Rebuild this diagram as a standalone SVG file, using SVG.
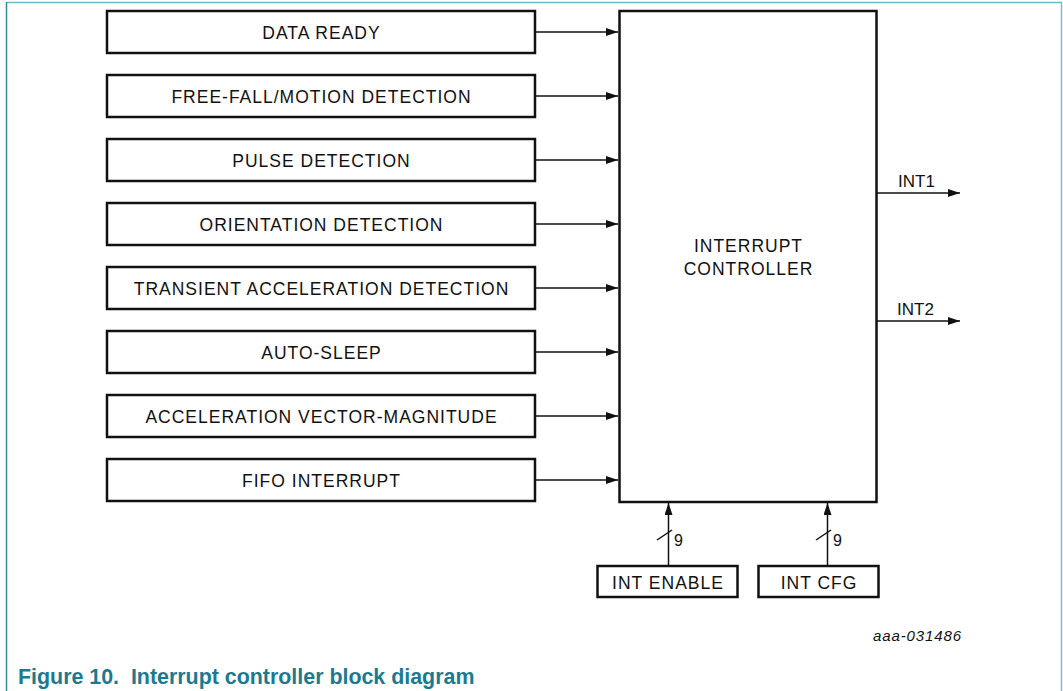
<svg xmlns="http://www.w3.org/2000/svg" width="1063" height="691" viewBox="0 0 1063 691">
<style>
.box{fill:#fff;stroke:#111;stroke-width:2.5}
.t{font-family:"Liberation Sans",Arial,sans-serif;font-size:17.5px;letter-spacing:1px;fill:#111;text-anchor:middle}
.s{font-family:"Liberation Sans",Arial,sans-serif;font-size:17px;fill:#111}
.w{stroke:#111;stroke-width:1.5;fill:none}
</style>
<defs>
<marker id="ah" viewBox="0 0 12 8" refX="12" refY="4" markerWidth="12" markerHeight="8" markerUnits="userSpaceOnUse" orient="auto">
<path d="M0,0 L12,4 L0,8 Z" fill="#111"/>
</marker>
</defs>
<rect width="1063" height="691" fill="#fff"/>
<g id="frame" fill="none">
<line x1="6.5" y1="2.5" x2="1062" y2="2.5" stroke="#6bb8cc" stroke-width="1.5"/>
<line x1="6.5" y1="2" x2="6.5" y2="691" stroke="#2a8fa6" stroke-width="1.5"/>
<line x1="1061.5" y1="2" x2="1061.5" y2="691" stroke="#7cc0d2" stroke-width="1.5"/>
</g>
<g id="n1"><rect class="box" x="107" y="11" width="428" height="42"/><text class="t" x="321.5" y="39">DATA READY</text></g>
<g id="n2"><rect class="box" x="107" y="75" width="428" height="42"/><text class="t" x="321.5" y="103">FREE-FALL/MOTION DETECTION</text></g>
<g id="n3"><rect class="box" x="107" y="139" width="428" height="42"/><text class="t" x="321.5" y="167">PULSE DETECTION</text></g>
<g id="n4"><rect class="box" x="107" y="203" width="428" height="42"/><text class="t" x="321.5" y="231">ORIENTATION DETECTION</text></g>
<g id="n5"><rect class="box" x="107" y="267" width="428" height="42"/><text class="t" x="321.5" y="295">TRANSIENT ACCELERATION DETECTION</text></g>
<g id="n6"><rect class="box" x="107" y="331" width="428" height="42"/><text class="t" x="321.5" y="359">AUTO-SLEEP</text></g>
<g id="n7"><rect class="box" x="107" y="395" width="428" height="42"/><text class="t" x="321.5" y="423">ACCELERATION VECTOR-MAGNITUDE</text></g>
<g id="n8"><rect class="box" x="107" y="459" width="428" height="42"/><text class="t" x="321.5" y="487">FIFO INTERRUPT</text></g>
<g id="controller"><rect class="box" x="619.5" y="11" width="257" height="491"/><text class="t" x="748.5" y="252">INTERRUPT</text><text class="t" x="748.5" y="275">CONTROLLER</text></g>
<g id="enable"><rect class="box" x="597.5" y="566" width="140" height="31"/><text class="t" x="668" y="589">INT ENABLE</text></g>
<g id="cfg"><rect class="box" x="758.5" y="566" width="120" height="31"/><text class="t" x="819" y="589">INT CFG</text></g>
<g id="connectors">
<line class="w" x1="536" y1="32" x2="618" y2="32" marker-end="url(#ah)"/>
<line class="w" x1="536" y1="96" x2="618" y2="96" marker-end="url(#ah)"/>
<line class="w" x1="536" y1="160" x2="618" y2="160" marker-end="url(#ah)"/>
<line class="w" x1="536" y1="224" x2="618" y2="224" marker-end="url(#ah)"/>
<line class="w" x1="536" y1="288" x2="618" y2="288" marker-end="url(#ah)"/>
<line class="w" x1="536" y1="352" x2="618" y2="352" marker-end="url(#ah)"/>
<line class="w" x1="536" y1="416" x2="618" y2="416" marker-end="url(#ah)"/>
<line class="w" x1="536" y1="480" x2="618" y2="480" marker-end="url(#ah)"/>
<line class="w" x1="877" y1="193" x2="960" y2="193" marker-end="url(#ah)"/>
<line class="w" x1="877" y1="321" x2="960" y2="321" marker-end="url(#ah)"/>
<line class="w" x1="668.5" y1="565" x2="668.5" y2="503" marker-end="url(#ah)"/>
<line class="w" x1="827.5" y1="565" x2="827.5" y2="503" marker-end="url(#ah)"/>
<line class="w" x1="657" y1="540" x2="672" y2="530"/>
<line class="w" x1="816" y1="540" x2="831" y2="530"/>
<text class="s" x="674" y="546" style="font-size:16px">9</text>
<text class="s" x="833" y="546" style="font-size:16px">9</text>
<text class="s" x="898" y="187">INT1</text>
<text class="s" x="897" y="315">INT2</text>
</g>
<text x="873" y="641" style="font-family:'Liberation Sans',Arial,sans-serif;font-size:15px;letter-spacing:0.9px;font-style:italic;fill:#111">aaa-031486</text>
<text x="18" y="684" style="font-family:'Liberation Sans',Arial,sans-serif;font-size:21.4px;font-weight:bold;fill:#1b7a92" xml:space="preserve">Figure 10.  Interrupt controller block diagram</text>
</svg>
